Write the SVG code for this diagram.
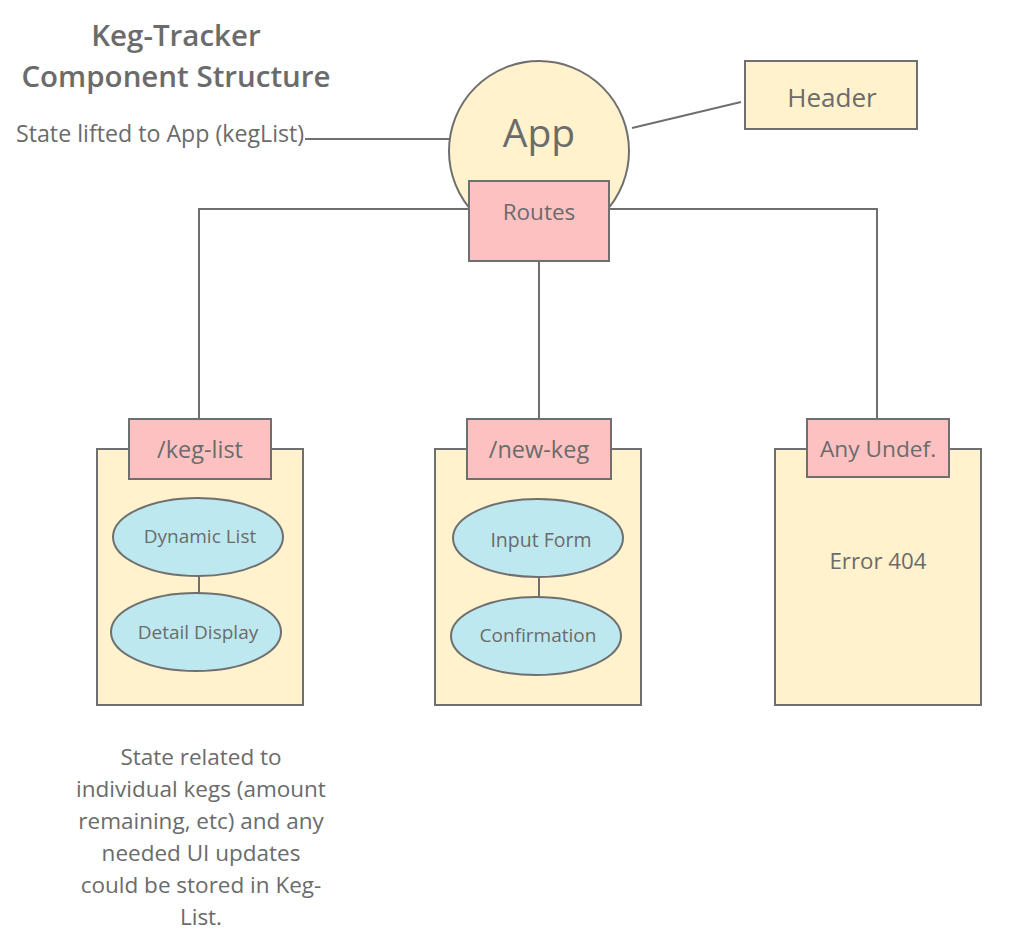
<svg xmlns="http://www.w3.org/2000/svg" width="1022" height="952" viewBox="0 0 1022 952">
<style>
text{font-family:"Open Sans","Noto Sans","Liberation Sans",sans-serif;fill:#6b6b6b;text-anchor:middle}
.s{stroke:#6f6f6f;stroke-width:2}
.y{fill:#fff2cc}
.p{fill:#fec1c1}
.b{fill:#bee8f0}
.ln{fill:none;stroke:#6f6f6f;stroke-width:2}
</style>
<rect width="1022" height="952" fill="#ffffff"/>
<g id="title">
<text x="176" y="46" font-size="29.5" font-weight="600">Keg-Tracker</text>
<text x="176" y="87" font-size="29.5" font-weight="600">Component Structure</text>
</g>
<g id="state-note">
<text x="16" y="142" font-size="23.2" style="text-anchor:start">State lifted to App (kegList)</text>
</g>
<g id="app">
<circle class="s y" cx="539" cy="151" r="90"/>
<text x="539" y="147" font-size="39">App</text>
</g>
<g id="routes">
<rect class="s p" x="469" y="181" width="140" height="80"/>
<text x="539" y="220" font-size="22.5">Routes</text>
</g>
<g id="header">
<rect class="s y" x="745" y="61" width="172" height="68"/>
<text x="832" y="107" font-size="26">Header</text>
</g>
<g id="keg-list">
<rect class="s y" x="97" y="449" width="206" height="256"/>
<rect class="s p" x="129" y="419" width="142" height="60"/>
<text x="200" y="458" font-size="23.5">/keg-list</text>
</g>
<g id="new-keg">
<rect class="s y" x="435" y="449" width="206" height="256"/>
<rect class="s p" x="467" y="419" width="144" height="60"/>
<text x="539" y="458" font-size="23.5">/new-keg</text>
</g>
<g id="any-undef">
<rect class="s y" x="775" y="449" width="206" height="256"/>
<rect class="s p" x="807" y="419" width="142" height="58"/>
<text x="878" y="457" font-size="22.7">Any Undef.</text>
<text x="878" y="569" font-size="22.3">Error 404</text>
</g>
<g id="connectors">
<path class="ln" d="M305 139H449"/>
<path class="ln" d="M632 128L741 102"/>
<path class="ln" d="M469 209H199V419"/>
<path class="ln" d="M609 209H877V419"/>
<path class="ln" d="M539 261V419"/>
<path class="ln" d="M199 575V594"/>
<path class="ln" d="M539 576V598"/>
</g>
<g id="dynamic-list">
<ellipse class="s b" cx="198" cy="537" rx="85" ry="39"/>
<text x="200" y="543" font-size="19">Dynamic List</text>
</g>
<g id="detail-display">
<ellipse class="s b" cx="196" cy="632" rx="85" ry="39"/>
<text x="198" y="639" font-size="19">Detail Display</text>
</g>
<g id="input-form">
<ellipse class="s b" cx="538" cy="538" rx="85" ry="39"/>
<text x="541" y="547" font-size="19.5">Input Form</text>
</g>
<g id="confirmation">
<ellipse class="s b" cx="536" cy="636" rx="85" ry="39"/>
<text x="538" y="642" font-size="19">Confirmation</text>
</g>
<g id="bottom-note" font-size="22.5">
<text x="201" y="765">State related to</text>
<text x="201" y="797">individual kegs (amount</text>
<text x="201" y="829">remaining, etc) and any</text>
<text x="201" y="861">needed UI updates</text>
<text x="201" y="893">could be stored in Keg-</text>
<text x="201" y="925">List.</text>
</g>
</svg>
